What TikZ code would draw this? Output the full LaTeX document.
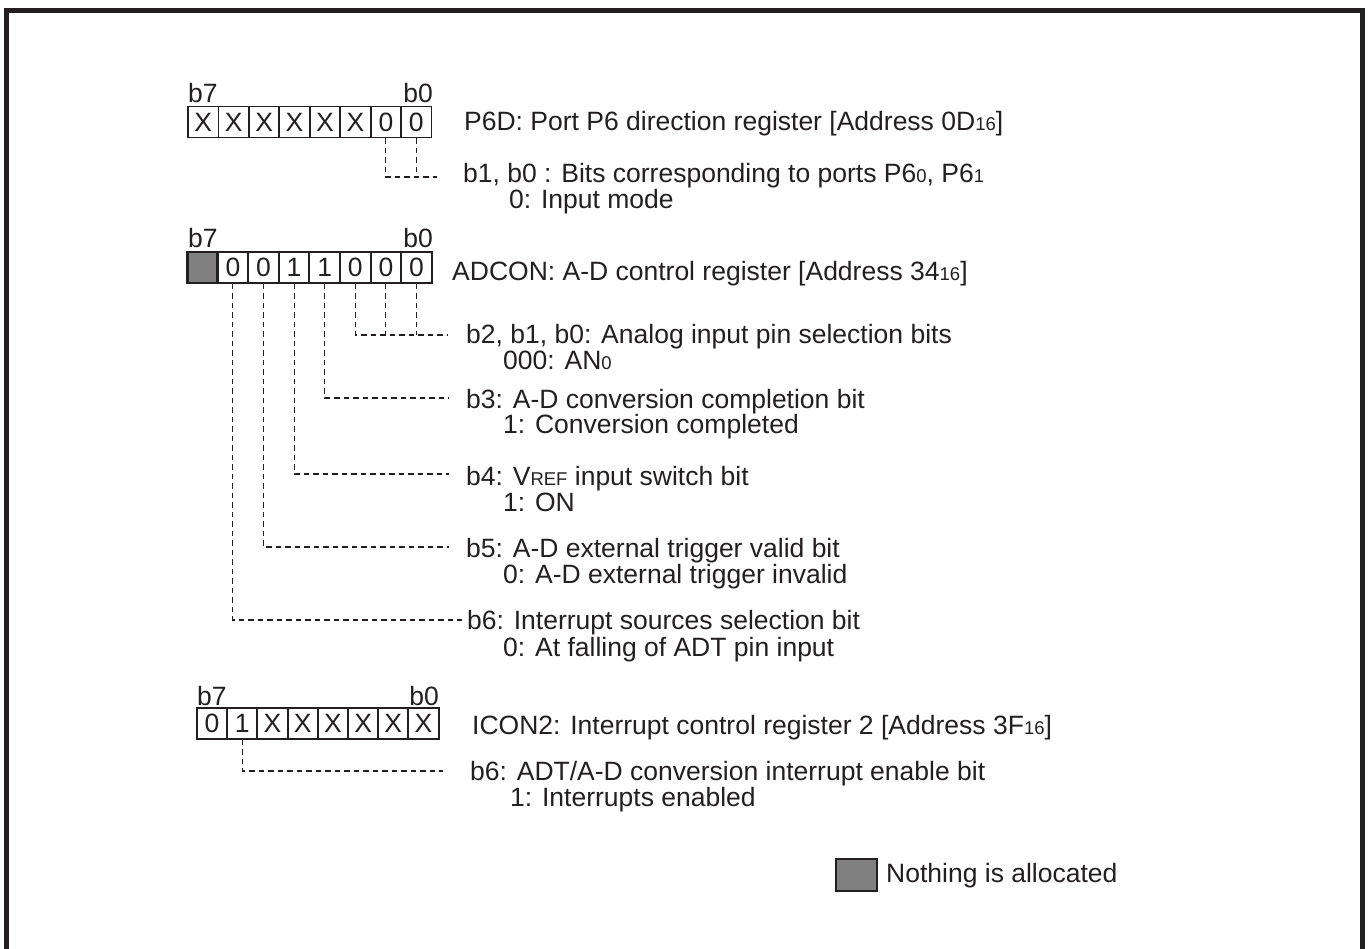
\documentclass[tikz,border=0pt]{standalone}
\usepackage{fontspec}
\setmainfont{Liberation Sans}
\definecolor{ink}{HTML}{231F20}
\definecolor{unused}{HTML}{808080}
\newcommand{\sm}[1]{{\fontsize{18.5}{18.5}\selectfont #1}}
\begin{document}
\begin{tikzpicture}[x=1pt,y=-1pt,font=\fontsize{26.5}{28}\selectfont,
  cell/.style={draw=ink,line width=1.8pt,minimum width=30.4pt,minimum height=31pt,inner sep=0pt,text=ink},
  graycell/.style={cell,fill=unused,line width=2.8pt},
  dl/.style={draw=ink,line width=1.1pt,dash pattern=on 5.5pt off 4pt},
  lbl/.style={anchor=base west,inner sep=0pt,text=ink},
  blbl/.style={anchor=base west,inner sep=0pt,text=ink},
  brlbl/.style={anchor=base east,inner sep=0pt,text=ink}]
\useasboundingbox (0,0) rectangle (1368,949);
\draw[line width=5pt,ink] (6.5,949) -- (6.5,10.5) -- (1362.5,10.5) -- (1362.5,949);

% ---------- P6D ----------
\foreach \b/\v in {7/X,6/X,5/X,4/X,3/X,2/X,1/0,0/0}
  \node[cell] (p\b) at ({188+30.45*(7-\b)+15.2},122) {\v};
\node[blbl] (p6b7) at (188,103) {b7};
\node[brlbl] (p6b0) at (433,103) {b0};
\node[lbl] (p6t) at (464,131) {P6D: Port P6 direction register [Address 0D\sm{16}]};
\coordinate (pc) at (437,177);
\draw[dl] (p1.south) |- (pc);
\draw[dl] (p0.south) -- (p0.south |- pc);
\node[lbl] (p6a) at (463,183) {b1, b0 : Bits corresponding to ports P6\sm{0}, P6\sm{1}};
\node[lbl] (p6b) at (509,209) {0: Input mode};

% ---------- ADCON ----------
\node[graycell] (a7) at ({187+15.3},267.5) {};
\foreach \b/\v in {6/0,5/0,4/1,3/1,2/0,1/0,0/0}
  \node[cell] (a\b) at ({187+30.6*(7-\b)+15.3},267.5) {\v};
\node[blbl] (adb7) at (188,248) {b7};
\node[brlbl] (adb0) at (433,248) {b0};
\node[lbl] (adt) at (452,281) {ADCON: A-D control register [Address 34\sm{16}]};

\coordinate (c210) at (447,335);
\draw[dl] (a2.south) |- (c210);
\draw[dl] (a1.south) -- (a1.south |- c210);
\draw[dl] (a0.south) -- (a0.south |- c210);
\node[lbl] (t2) at (466,344) {b2, b1, b0: Analog input pin selection bits};
\node[lbl] (t2b) at (503,370) {000: AN\sm{0}};

\coordinate (c3) at (449,398);
\draw[dl] (a3.south) |- (c3);
\node[lbl] (t3) at (466,408) {b3: A-D conversion completion bit};
\node[lbl] (t3b) at (503,433) {1: Conversion completed};

\coordinate (c4) at (449,474);
\draw[dl] (a4.south) |- (c4);
\node[lbl] (t4) at (466,485) {b4: V\sm{REF} input switch bit};
\node[lbl] (t4b) at (503,511) {1: ON};

\coordinate (c5) at (449,547);
\draw[dl] (a5.south) |- (c5);
\node[lbl] (t5) at (466,557) {b5: A-D external trigger valid bit};
\node[lbl] (t5b) at (503,583) {0: A-D external trigger invalid};

\coordinate (c6) at (462,620);
\draw[dl] (a6.south) |- (c6);
\node[lbl] (t6) at (467,629) {b6: Interrupt sources selection bit};
\node[lbl] (t6b) at (503,656) {0: At falling of ADT pin input};

% ---------- ICON2 ----------
\foreach \b/\v in {7/0,6/1,5/X,4/X,3/X,2/X,1/X,0/X}
  \node[cell] (i\b) at ({197+30.2*(7-\b)+15.1},723.5) {\v};
\node[blbl] (icb7) at (197,705) {b7};
\node[brlbl] (icb0) at (439,705) {b0};
\node[lbl] (ict) at (472,734) {ICON2: Interrupt control register 2 [Address 3F\sm{16}]};
\coordinate (ci6) at (443,771);
\draw[dl] (i6.south) |- (ci6);
\node[lbl] (it6) at (470,780) {b6: ADT/A-D conversion interrupt enable bit};
\node[lbl] (it6b) at (510,806) {1: Interrupts enabled};

% ---------- legend ----------
\node[draw=ink,fill=unused,line width=2.8pt,minimum width=41pt,minimum height=32pt,inner sep=0pt] (leg) at (856.5,875) {};
\node[anchor=base west,inner sep=0pt,text=ink] (legt) at (886,882) {Nothing is allocated};
\end{tikzpicture}
\end{document}
